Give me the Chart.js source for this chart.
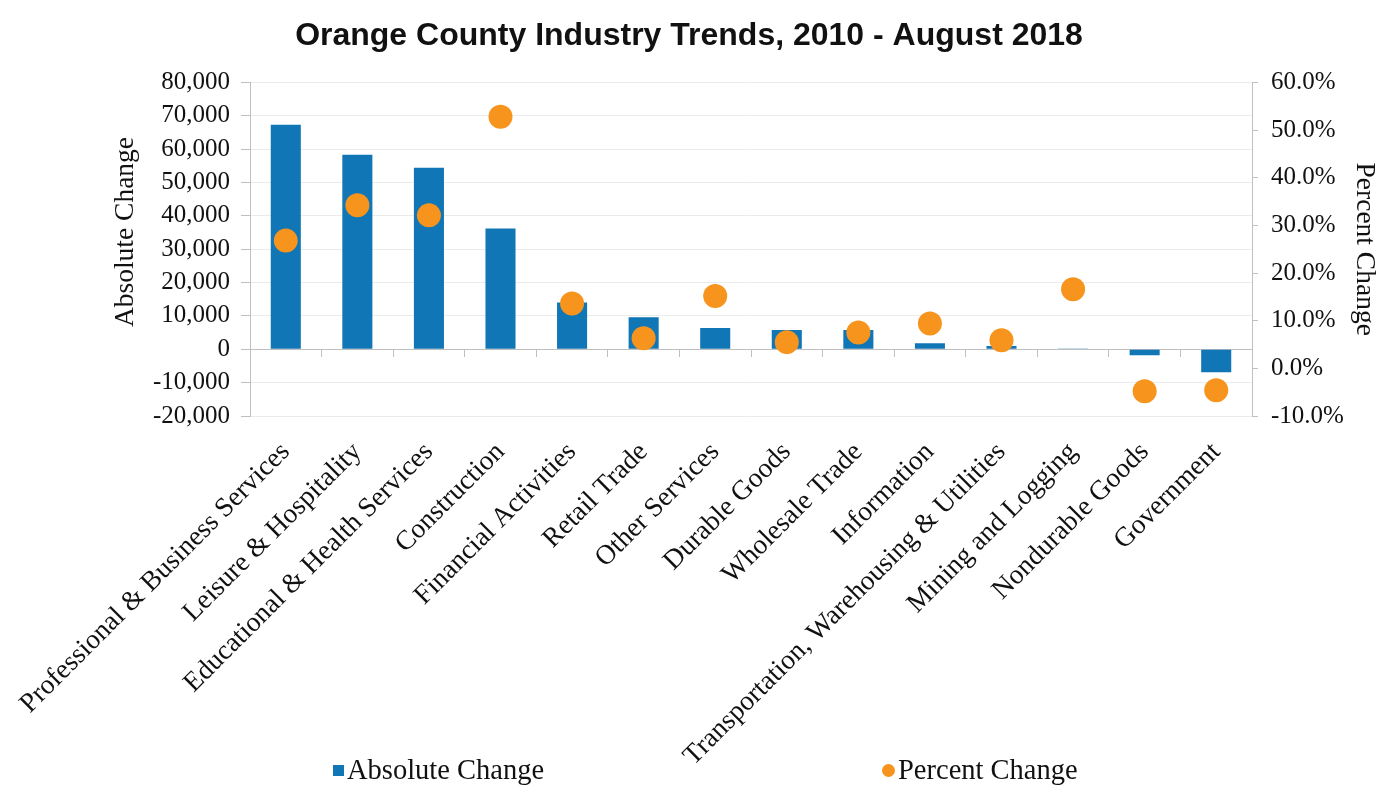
<!DOCTYPE html>
<html lang="en">
<head>
<meta charset="UTF-8">
<title>Orange County Industry Trends, 2010 - August 2018</title>
<style>
    body {
        margin: 0;
        background: #ffffff;
    }

    .wrap {
        position: relative;
        width: 1378px;
        height: 786px;
    }

    .legend-item {
        position: absolute;
        top: 754px;
        font-family: "Liberation Serif", "Times New Roman", serif;
        font-size: 28.5px;
        line-height: 32px;
        color: #111;
        white-space: nowrap;
    }

    .legend-item .swatch {
        display: inline-block;
        vertical-align: middle;
        margin-right: 3px;
        margin-top: -4px;
    }
</style>
</head>
<body>

<div class="wrap">
    <canvas id="industryChart"></canvas>
    <div id="legend"></div>
</div>

<script src="https://cdn.jsdelivr.net/npm/chart.js"></script>
<script>
    // Industry categories, sorted by absolute job change
    const industries = [
        'Professional & Business Services',
        'Leisure & Hospitality',
        'Educational & Health Services',
        'Construction',
        'Financial Activities',
        'Retail Trade',
        'Other Services',
        'Durable Goods',
        'Wholesale Trade',
        'Information',
        'Transportation, Warehousing & Utilities',
        'Mining and Logging',
        'Nondurable Goods',
        'Government'
    ];

    // Jobs added 2010 - Aug 2018
    const absoluteChange = [67300, 58300, 54400, 36200, 14000, 9600, 6400, 5800, 5800, 1800, 1000, 100, -1800, -6900];

    // Percent growth over the same period
    const percentChange = [26.8, 34.2, 32.1, 52.8, 13.6, 6.3, 15.2, 5.5, 7.5, 9.4, 5.9, 16.6, -4.8, -4.6];

    // Axis tick values
    const absTicks = [-20000, -10000, 0, 10000, 20000, 30000, 40000, 50000, 60000, 70000, 80000];
    const pctTicks = [-10, 0, 10, 20, 30, 40, 50, 60];

    const BLUE = '#1076b6';
    const ORANGE = '#f7941d';
    const AXIS = '#bfbfbf';
    const GRID = '#ebebeb';
    const TEXT = '#111111';
    const SERIF = '"Liberation Serif", "Times New Roman", serif';

    const ctx = document.getElementById('industryChart').getContext('2d');
    const chart = new Chart(ctx, {
        type: 'bar',
        data: {
            labels: industries,
            datasets: [{
                type: 'bar',
                label: 'Absolute Change',
                data: absoluteChange,
                backgroundColor: BLUE,
                xAxisID: 'x',
                yAxisID: 'y',
                barPercentage: 0.42,
                categoryPercentage: 1,
                order: 2
            }, {
                type: 'line',
                label: 'Percent Change',
                data: percentChange,
                xAxisID: 'x',
                yAxisID: 'y1',
                showLine: false,
                pointRadius: 12,
                pointBorderWidth: 0,
                pointBackgroundColor: ORANGE,
                backgroundColor: ORANGE,
                order: 1
            }]
        },
        options: {
            responsive: true,
            maintainAspectRatio: false,
            animation: false,
            layout: { padding: 0 },
            plugins: {
                legend: { display: false },
                tooltip: { enabled: false },
                title: {
                    display: true,
                    text: 'Orange County Industry Trends, 2010 - August 2018',
                    color: TEXT,
                    font: { family: '"Liberation Sans", Arial, sans-serif', size: 32, weight: 'bold' },
                    padding: { top: 17, bottom: 27 }
                }
            },
            scales: {
                x: {
                    position: 'bottom',
                    grid: { display: false },
                    border: { display: false },
                    ticks: {
                        autoSkip: false,
                        minRotation: 45,
                        maxRotation: 45,
                        padding: 12,
                        color: TEXT,
                        font: { family: SERIF, size: 27.5 }
                    },
                    afterFit: (scale) => { scale.height = 370; }
                },
                // category axis drawn along the zero line, tick marks only
                zero: {
                    type: 'category',
                    axis: 'x',
                    position: { y: 0 },
                    grid: { drawOnChartArea: false, color: AXIS, tickLength: 7, offset: true },
                    border: { color: AXIS },
                    ticks: { display: false }
                },
                y: {
                    position: 'left',
                    min: absTicks[0],
                    max: absTicks[absTicks.length - 1],
                    afterBuildTicks: (scale) => { scale.ticks = absTicks.map(v => ({ value: v })); },
                    ticks: {
                        padding: 11,
                        color: TEXT,
                        font: { family: SERIF, size: 25 },
                        callback: (v) => v.toLocaleString('en-US')
                    },
                    grid: { color: GRID, tickColor: AXIS, tickLength: 9 },
                    border: { color: AXIS },
                    title: {
                        display: true,
                        // leading spaces lift the rotated title a little above centre
                        text: '     Absolute Change',
                        color: TEXT,
                        font: { family: SERIF, size: 27.5, lineHeight: 1 },
                        padding: { top: 112, bottom: 0 }
                    },
                    afterFit: (scale) => { scale.width = 250; }
                },
                y1: {
                    position: 'right',
                    min: pctTicks[0],
                    max: pctTicks[pctTicks.length - 1],
                    afterBuildTicks: (scale) => { scale.ticks = pctTicks.map(v => ({ value: v })); },
                    ticks: {
                        padding: 13,
                        color: TEXT,
                        font: { family: SERIF, size: 25 },
                        callback: (v) => v.toFixed(1) + '%'
                    },
                    grid: { drawOnChartArea: false, color: AXIS, tickLength: 6 },
                    border: { color: AXIS },
                    title: {
                        display: true,
                        text: 'Percent Change',
                        color: TEXT,
                        font: { family: SERIF, size: 27.5, lineHeight: 1 },
                        padding: { top: 0, bottom: 0 }
                    },
                    afterFit: (scale) => { scale.width = 126; }
                }
            }
        }
    });

    // legend below the category labels, items spread apart
    const legendLefts = [333, 882];
    const legendBox = document.getElementById('legend');
    chart.data.datasets.forEach((ds, i) => {
        const item = document.createElement('div');
        item.className = 'legend-item';
        item.style.left = legendLefts[i] + 'px';
        const sw = document.createElement('span');
        sw.className = 'swatch';
        const isPoint = ds.type === 'line';
        sw.style.width = isPoint ? '13px' : '11px';
        sw.style.height = isPoint ? '13px' : '11px';
        sw.style.background = ds.backgroundColor;
        sw.style.borderRadius = isPoint ? '50%' : '0';
        item.appendChild(sw);
        item.appendChild(document.createTextNode(ds.label));
        legendBox.appendChild(item);
    });
</script>
</body>
</html>
